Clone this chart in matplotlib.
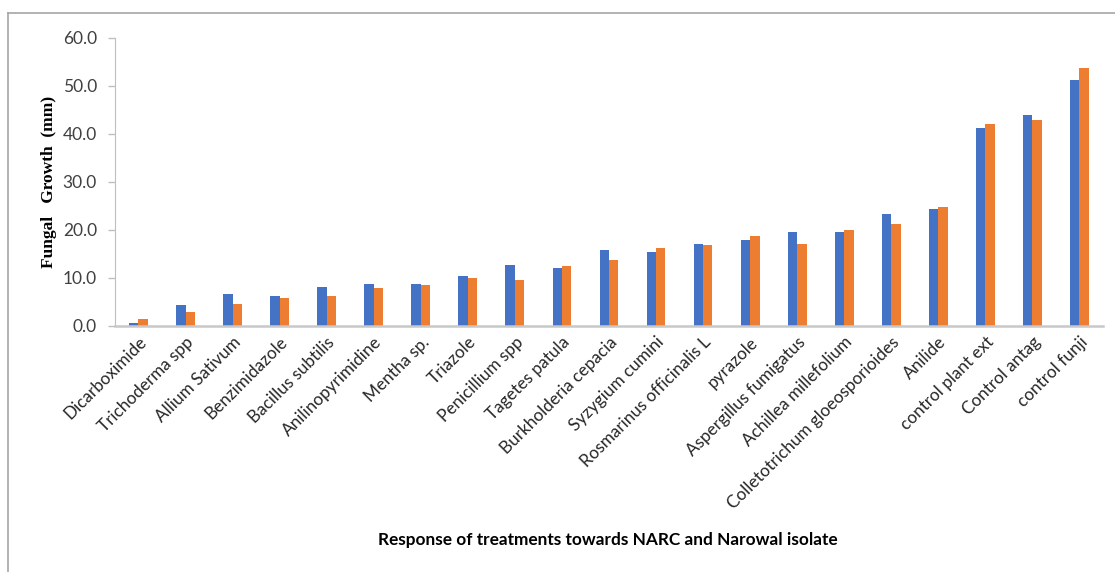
import matplotlib.pyplot as plt
import matplotlib.lines as mlines
import numpy as np

# Treatments and fungal growth (mm) for the two isolates
treatments = ['Dicarboximide', 'Trichoderma spp', 'Allium Sativum', 'Benzimidazole',
              'Bacillus subtilis', 'Anilinopyrimidine', 'Mentha sp.', 'Triazole',
              'Penicillium spp', 'Tagetes patula', 'Burkholderia cepacia', 'Syzygium cumini',
              'Rosmarinus officinalis L', 'pyrazole', 'Aspergillus fumigatus',
              'Achillea millefolium', 'Colletotrichum gloeosporioides', 'Anilide',
              'control plant ext', 'Control antag', 'control funji']
narc = [0.5, 4.3, 6.6, 6.2, 8.0, 8.7, 8.7, 10.3, 12.7, 12.0, 15.7, 15.3,
        17.1, 17.8, 19.6, 19.6, 23.2, 24.3, 41.3, 44.0, 51.3]
narowal = [1.5, 2.9, 4.5, 5.7, 6.2, 7.8, 8.5, 9.9, 9.6, 12.4, 13.6, 16.2,
           16.8, 18.7, 17.1, 19.9, 21.3, 24.8, 42.1, 42.9, 53.8]
yticks = [0, 10, 20, 30, 40, 50, 60]

fig = plt.figure(figsize=(11.15, 5.72), dpi=100)
ax = fig.add_axes([0.1031, 0.4306, 0.8861, 0.503])

x = np.arange(len(treatments))
w = 0.2
ax.bar(x - w/2, narc, width=w, color='#4472C4', label='NARC')
ax.bar(x + w/2, narowal, width=w, color='#ED7D31', label='Narowal')

ax.set_xlim(-0.5, len(treatments) - 0.5)
ax.set_ylim(0, 60)
ax.set_yticks(yticks)
ax.set_yticklabels([f'{v:.1f}' for v in yticks], fontfamily='Lato', fontsize=12.5, color='#404040')
ax.set_xticks(x)
ax.set_xticklabels(treatments, rotation=45, ha='right', rotation_mode='anchor',
                   fontfamily='Lato', fontsize=12.3, color='#262626')
ax.tick_params(axis='x', length=0, pad=6)
ax.tick_params(axis='y', length=5, width=1, color='#BFBFBF', pad=8)

for s in ['top', 'right']:
    ax.spines[s].set_visible(False)
ax.spines['left'].set_color('#BFBFBF')
ax.spines['bottom'].set_color('#C8C8C8')
ax.spines['bottom'].set_linewidth(1.8)

ax.set_ylabel('Fungal   Growth  (mm)', fontfamily='Liberation Serif', fontweight='bold',
              fontsize=12.5, labelpad=4)
fig.text(0.545, 0.056, 'Response of treatments towards NARC and Narowal isolate',
         ha='center', va='center', fontfamily='Lato', fontweight='bold', fontsize=12.4)

# chart frame (top and left edges)
fig.add_artist(mlines.Line2D([0.0075, 1.0], [0.9764, 0.9764], transform=fig.transFigure,
                             color='#A6A6A6', lw=1.2))
fig.add_artist(mlines.Line2D([0.0075, 0.0075], [0.0, 0.9764], transform=fig.transFigure,
                             color='#A6A6A6', lw=1.2))

fig.savefig('out.png', dpi=100)
